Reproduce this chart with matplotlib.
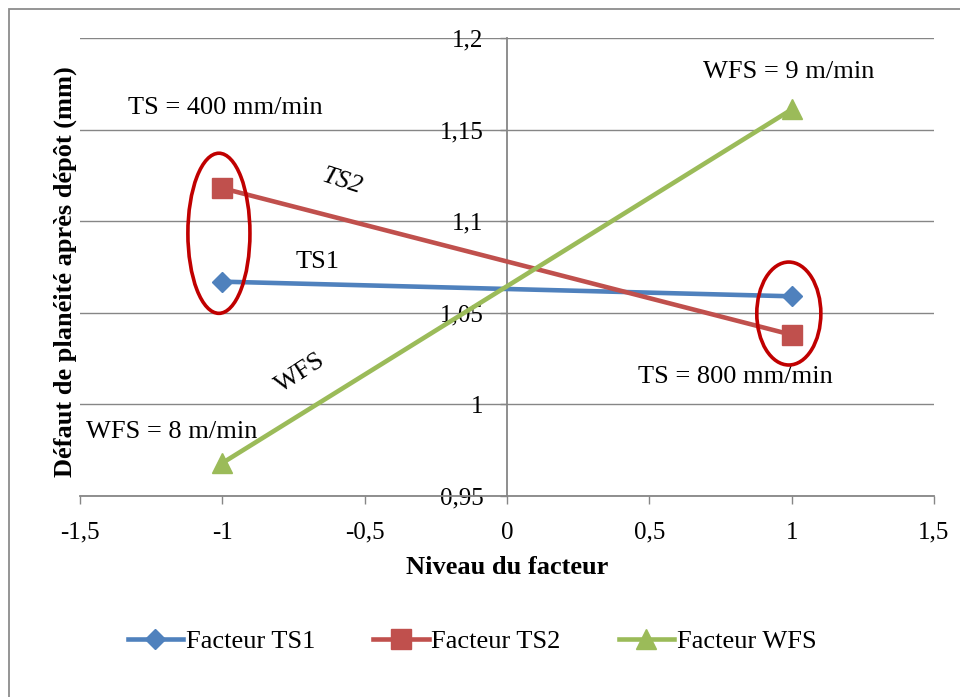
import matplotlib
matplotlib.use("Agg")
import matplotlib.pyplot as plt
from matplotlib.patches import Ellipse, Rectangle
from matplotlib.ticker import FuncFormatter

plt.rcParams['font.family'] = ['Liberation Serif', 'DejaVu Serif']

# data
niveaux = [-1, 1]
ts1 = [1.067, 1.059]
ts2 = [1.118, 1.038]
wfs = [0.968, 1.161]

series_labels = ["Facteur TS1", "Facteur TS2", "Facteur WFS"]
x_ticks = [-1.5, -1, -0.5, 0, 0.5, 1, 1.5]
y_ticks = [0.95, 1.0, 1.05, 1.1, 1.15, 1.2]

gray = "#868686"
fs = 19

fig = plt.figure(figsize=(9.6, 6.97), dpi=100)
ax = fig.add_axes([80 / 960, 1 - 496 / 697, 854 / 960, 458 / 697])

ax.plot(niveaux, ts1, color="#4F81BD", lw=3.3, marker="D", ms=10, label=series_labels[0], zorder=4)
ax.plot(niveaux, ts2, color="#C0504D", lw=3.3, marker="s", ms=14, label=series_labels[1], zorder=4)
ax.plot(niveaux, wfs, color="#9BBB59", lw=3.3, marker="^", ms=14.5, label=series_labels[2], zorder=4)

ax.set_xlim(-1.5, 1.5)
ax.set_ylim(0.95, 1.2)
ax.set_xticks(x_ticks)
ax.set_yticks(y_ticks)

fmt = FuncFormatter(lambda v, p: ("%g" % v).replace(".", ","))
ax.xaxis.set_major_formatter(fmt)
ax.yaxis.set_major_formatter(fmt)

ax.grid(axis="y", color=gray, lw=1)
ax.set_axisbelow(True)

for s in ["top", "right"]:
    ax.spines[s].set_visible(False)
ax.spines["left"].set_position(("data", 0))
ax.spines["left"].set_color(gray)
ax.spines["bottom"].set_color(gray)
ax.spines["left"].set_linewidth(1.3)
ax.spines["bottom"].set_linewidth(1.3)
ax.spines["left"].set_zorder(1)

ax.tick_params(axis="x", direction="out", length=5.5, color=gray, width=1, labelsize=18, pad=13)
ax.tick_params(axis="y", direction="out", length=5, color=gray, width=1, labelsize=18, pad=12)

ax.set_xlabel("Niveau du facteur", fontsize=fs, fontweight="bold", labelpad=9)
fig.text(65 / 960, 1 - 272 / 697, "Défaut de planéité après dépôt (mm)", rotation=90,
         ha="center", va="center", fontsize=fs, fontweight="bold")

# annotations
ax.text(-1.331, 1.1618, "TS = 400 mm/min", fontsize=fs, ha="left", va="center")
ax.text(0.688, 1.1814, "WFS = 9 m/min", fontsize=fs, ha="left", va="center")
ax.text(-1.479, 0.985, "WFS = 8 m/min", fontsize=fs, ha="left", va="center")
ax.text(0.46, 1.015, "TS = 800 mm/min", fontsize=fs, ha="left", va="center")
ax.text(-0.667, 1.0777, "TS1", fontsize=fs, ha="center", va="center")
ax.text(-0.58, 1.1214, "TS2", fontsize=fs, ha="center", va="center", style="italic", rotation=-18)
ax.text(-0.727, 1.017, "WFS", fontsize=fs, ha="center", va="center", rotation=33)

ax.add_patch(Ellipse((-1.012, 1.0934), 0.218, 0.0874, fill=False, ec="#C00000", lw=2.6, zorder=5))
ax.add_patch(Ellipse((0.99, 1.0496), 0.225, 0.0562, fill=False, ec="#C00000", lw=2.6, zorder=5))

fig.legend(loc="center", bbox_to_anchor=(472 / 960, 1 - 641 / 697), ncol=3, frameon=False,
           fontsize=fs, handlelength=2.1, handletextpad=0.1, columnspacing=2.2)

# outer chart frame
fig.patches.append(Rectangle((9 / 960, -0.1), 1.2, 1.1 - 9 / 697, transform=fig.transFigure,
                             fill=False, ec="#8C8C8C", lw=1.3, figure=fig))

fig.savefig("out.png", dpi=100)
